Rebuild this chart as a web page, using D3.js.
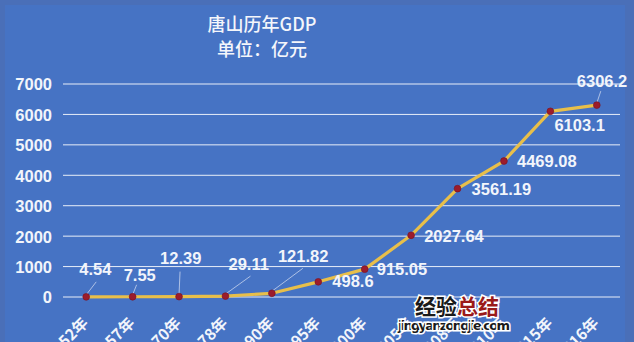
<!DOCTYPE html>
<html><head><meta charset="utf-8">
<script src="https://cdn.jsdelivr.net/npm/d3@7"></script>
<style>html,body{margin:0;padding:0;background:#4672c2;overflow:hidden}</style>
</head><body>
<script>
const years = ["1952年","1957年","1970年","1978年","1990年","1995年","2000年","2005年","2008年","2010年","2015年","2016年"];
const gdp = [4.54, 7.55, 12.39, 29.11, 121.82, 498.6, 915.05, 2027.64, 3561.19, 4469.08, 6103.1, 6306.2];
const valueLabels = ["4.54","7.55","12.39","29.11","121.82","498.6","915.05","2027.64","3561.19","4469.08","6103.1","6306.2"];
const yTicks = [0, 1000, 2000, 3000, 4000, 5000, 6000, 7000];
const titleLines = ["唐山历年GDP", "单位：亿元"];

// label placement (dx, dy of text start/baseline relative to point; leader line end)
const labelPos = [
  {dx:-7, dy:-22, lead:[10,-15]},
  {dx:-9, dy:-16, lead:[4,-12]},
  {dx:-19, dy:-33, lead:[1,-25]},
  {dx:3, dy:-26, lead:[25,-20]},
  {dx:6, dy:-31, lead:[31,-25]},
  {dx:14, dy:5},
  {dx:12, dy:6},
  {dx:13, dy:7},
  {dx:14, dy:6},
  {dx:13, dy:6},
  {dx:4, dy:20},
  {dx:-20, dy:-18, lead:[4,-14]}
];

const W = 634, H = 342;
const svg = d3.select("body").append("svg").attr("width", W).attr("height", H);

svg.append("rect").attr("width", W).attr("height", H).attr("fill", "#4a6fb8");
svg.append("rect").attr("x", 5).attr("y", 5).attr("width", 620).attr("height", H).attr("fill", "#4673c4");

const x = d3.scaleBand().domain(years).range([63, 620]);
const y = d3.scaleLinear().domain([0, 7000]).range([297, 84]);
const cx = d => x(d) + x.bandwidth() / 2;

// gridlines
svg.append("g").selectAll("line").data(yTicks).join("line")
  .attr("x1", 63).attr("x2", 620)
  .attr("y1", d => y(d)).attr("y2", d => y(d))
  .attr("stroke", "#e8eef8").attr("stroke-width", 1);

// y axis labels
const yAxis = d3.axisLeft(y).tickValues(yTicks).tickSize(0).tickPadding(0).tickFormat(d3.format("d"));
const yg = svg.append("g").attr("transform", "translate(52,0)").call(yAxis);
yg.select(".domain").remove();
yg.selectAll("text").attr("fill", "#f2f5fb").attr("font-family", "Liberation Sans, Arial, sans-serif")
  .attr("font-weight", "bold").attr("font-size", 16.5).attr("dy", "0.36em");

// x axis labels
const xAxis = d3.axisBottom(x).tickSize(0).tickPadding(0);
const xg = svg.append("g").call(xAxis);
xg.select(".domain").remove();
xg.selectAll(".tick").attr("transform", d => `translate(${cx(d) + 3},324)`);
xg.selectAll("text").attr("fill", "#f2f5fb")
  .attr("font-family", "Noto Sans CJK SC, sans-serif").attr("font-weight", "bold")
  .attr("font-size", 15.5).attr("text-anchor", "end").attr("dy", 0).attr("y", 0)
  .attr("transform", "rotate(-45)");

// title
svg.append("g").selectAll("text").data(titleLines).join("text")
  .attr("x", 262).attr("y", (d, i) => 31 + i * 25)
  .attr("text-anchor", "middle").attr("fill", "#f4f6fb")
  .attr("font-family", "Noto Sans CJK SC, sans-serif").attr("font-weight", 500)
  .attr("font-size", 18).text(d => d);

const pts = years.map((yr, i) => ({yr, v: gdp[i], lab: valueLabels[i], pos: labelPos[i]}));

// line
const line = d3.line().x(d => cx(d.yr)).y(d => y(d.v));
svg.append("path").datum(pts).attr("d", line).attr("fill", "none")
  .attr("stroke", "#e8bf4a").attr("stroke-width", 3.2).attr("stroke-linejoin", "round");

// leader lines
svg.append("g").selectAll("line").data(pts.filter(p => p.pos.lead)).join("line")
  .attr("x1", d => cx(d.yr)).attr("y1", d => y(d.v) - 2)
  .attr("x2", d => cx(d.yr) + d.pos.lead[0]).attr("y2", d => y(d.v) + d.pos.lead[1])
  .attr("stroke", "#c8d4ee").attr("stroke-width", 0.8);

// markers
svg.append("g").selectAll("circle").data(pts).join("circle")
  .attr("cx", d => cx(d.yr)).attr("cy", d => y(d.v)).attr("r", 3.4)
  .attr("fill", "#9b1c2c").attr("stroke", "#7a1020").attr("stroke-width", 0.6);

// value labels
svg.append("g").selectAll("text").data(pts).join("text")
  .attr("x", d => cx(d.yr) + d.pos.dx).attr("y", d => y(d.v) + d.pos.dy)
  .attr("fill", "#f2f5fb").attr("font-family", "Liberation Sans, Arial, sans-serif")
  .attr("font-weight", "bold").attr("font-size", 16.5).text(d => d.lab);

// watermark
const wm = svg.append("g");
wm.append("text").attr("x", 415).attr("y", 314).attr("font-family", "Noto Sans CJK SC, sans-serif")
  .attr("font-weight", "bold").attr("font-size", 21)
  .attr("stroke", "#ffffff").attr("stroke-width", 3).attr("paint-order", "stroke")
  .call(t => { t.append("tspan").attr("fill", "#1a1a1a").text("经验"); t.append("tspan").attr("fill", "#9a1a1a").text("总结"); });
wm.append("text").attr("x", 398).attr("y", 330).attr("font-family", "DejaVu Sans, sans-serif")
  .attr("font-weight", "bold").attr("font-size", 13).attr("textLength", 112)
  .attr("fill", "#1a1a1a").attr("stroke", "#ffffff").attr("stroke-width", 3).attr("paint-order", "stroke")
  .text("jingyanzongjie.com");
</script>
</body></html>
